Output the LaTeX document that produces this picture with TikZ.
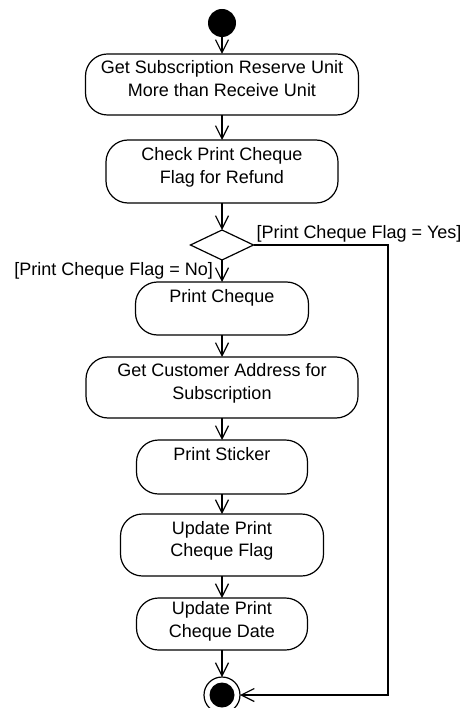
\documentclass[tikz,border=0pt]{standalone}
\usepackage{fontspec}
\setmainfont{Liberation Sans}
\usetikzlibrary{positioning,shapes.geometric,arrows.meta}

\begin{document}
\begin{tikzpicture}[x=1pt,y=1pt,>={Straight Barb[length=13pt,width=13pt]},line width=1.2pt,every node/.append style={outer sep=0pt}]
\tikzstyle{act}=[rectangle,draw,rounded corners=22pt,align=center,inner xsep=2pt,font=\fontsize{18}{22.5}\selectfont,text height=35.5pt,text depth=12pt]
\tikzstyle{actone}=[act,text height=13pt,text depth=26pt]
\tikzstyle{guard}=[font=\fontsize{18}{22.5}\selectfont,inner sep=3pt]
\useasboundingbox (-222,23) rectangle (250,-685);
\node[circle,fill=black,minimum size=28pt,inner sep=0] (start) at (0,0) {};
\node[act,below=17pt of start,minimum width=273pt,minimum height=61pt] (reserve) {Get Subscription Reserve Unit\\More than Receive Unit};
\node[act,below=25pt of reserve,minimum width=232pt,minimum height=63pt] (check) {Check Print Cheque\\Flag for Refund};
\node[diamond,draw,aspect=2.1,minimum width=63pt,minimum height=30pt,inner sep=0,below=27pt of check] (flag) {};
\node[actone,below=22pt of flag,minimum width=173pt,minimum height=53pt] (cheque) {Print Cheque};
\node[act,below=22pt of cheque,minimum width=272pt,minimum height=61pt] (address) {Get Customer Address for\\Subscription};
\node[actone,below=22pt of address,minimum width=171pt,minimum height=54pt] (sticker) {Print Sticker};
\node[act,below=20pt of sticker,minimum width=203pt,minimum height=62pt] (upflag) {Update Print\\Cheque Flag};
\node[act,below=22pt of upflag,minimum width=171pt,minimum height=52pt,text depth=9pt] (update) {Update Print\\Cheque Date};
\node[circle,draw,minimum size=36pt,inner sep=0,below=27pt of update,path picture={\fill[black] (path picture bounding box.center) circle (12.5pt);}] (finish) {};
\coordinate[right=134.5pt of flag.east] (turn);
% main flow
\draw[->] (start) -- (reserve);
\draw[->] (reserve) -- (check);
\draw[->] (check) -- (flag);
\draw[->] (flag) -- node[guard,midway,left=6pt]{[Print Cheque Flag = No]} (cheque);
\draw[->] (cheque) -- (address);
\draw[->] (address) -- (sticker);
\draw[->] (sticker) -- (upflag);
\draw[->] (upflag) -- (update);
\draw[->] (update) -- (finish);
% skip branch
\draw[->] (flag.east) -- node[guard,pos=0,above right]{[Print Cheque Flag = Yes]} (turn) |- (finish);
\end{tikzpicture}
\end{document}
